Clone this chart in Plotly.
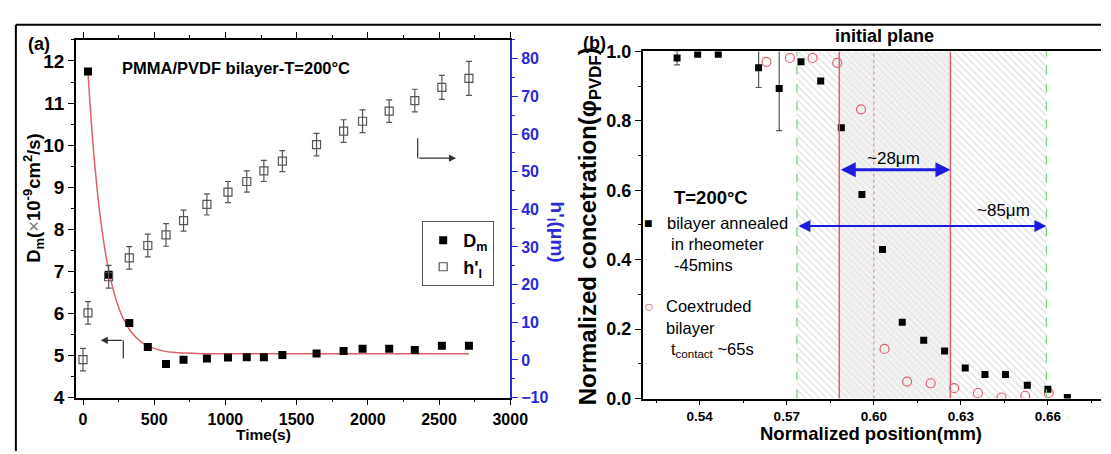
import plotly.graph_objects as go

# ---------------- Panel (a) data ----------------
time_D = [35, 180, 325, 455, 583, 706, 870, 1018, 1150, 1270, 1400, 1640, 1830, 1963, 2150, 2330, 2520, 2710]
D_m = [11.75, 6.92, 5.77, 5.20, 4.80, 4.90, 4.93, 4.95, 4.96, 4.96, 5.01, 5.05, 5.11, 5.16, 5.16, 5.13, 5.23, 5.23]

time_h = [0, 35, 180, 325, 455, 583, 706, 870, 1018, 1150, 1270, 1400, 1640, 1830, 1963, 2150, 2330, 2520, 2710]
h_l = [0.1, 12.5, 22.1, 27.1, 30.4, 33.2, 37.0, 41.3, 44.6, 47.4, 50.2, 52.8, 57.2, 60.8, 63.4, 66.1, 68.9, 72.4, 74.8]
h_err = [3.0, 3.0, 3.0, 3.0, 3.0, 3.0, 2.8, 2.8, 2.8, 2.8, 2.8, 2.8, 3.0, 3.0, 3.0, 3.0, 3.0, 3.2, 4.5]

fit_t = [35, 60, 90, 120, 150, 180, 210, 240, 270, 300, 330, 370, 410, 450, 500, 560, 650, 800, 1000, 1500, 2000, 2710]
fit_D = [11.73, 10.47, 9.27, 8.33, 7.60, 7.03, 6.59, 6.24, 5.97, 5.77, 5.60, 5.44, 5.32, 5.24, 5.17, 5.11, 5.07, 5.05, 5.04, 5.04, 5.04, 5.04]

# ---------------- Panel (b) data ----------------
pos_bilayer = [0.5322, 0.5393, 0.5464, 0.5603, 0.5674, 0.5749, 0.5817, 0.5888, 0.5959, 0.6030,
               0.6098, 0.6172, 0.6244, 0.6315, 0.6383, 0.6454, 0.6529, 0.6600, 0.6667]
phi_bilayer = [0.981, 0.992, 0.992, 0.953, 0.893, 0.970, 0.915, 0.780, 0.588, 0.429,
               0.220, 0.168, 0.137, 0.088, 0.069, 0.069, 0.038, 0.027, 0.003]
err_bilayer = [0.02, 0, 0, 0.057, 0.121, 0, 0, 0, 0, 0, 0, 0, 0, 0, 0, 0, 0, 0, 0]

pos_coex = [0.5630, 0.5711, 0.5789, 0.5874, 0.5956, 0.6037, 0.6115, 0.6196, 0.6277, 0.6359, 0.6440, 0.6522, 0.6603]
phi_coex = [0.970, 0.981, 0.981, 0.967, 0.833, 0.143, 0.049, 0.044, 0.030, 0.016, 0.003, 0.008, 0.016]

outer_region = [0.5735, 0.6595]   # ~85 um (green dashed)
inner_region = [0.5881, 0.6264]   # ~28 um (red solid)
initial_plane = 0.600

W, H = 1111, 454
def px(x):
    return x / W
def py(y):
    return 1 - y / H

FONT = "Liberation Sans, Arial, sans-serif"
BLUE = "#2a2ad8"
RED = "#e0606a"

fig = go.Figure()

# ---- panel (b) hatched regions ----
fig.add_trace(go.Scatter(
    x=[outer_region[0], outer_region[0], outer_region[1], outer_region[1], outer_region[0]],
    y=[0, 1, 1, 0, 0], xaxis="x2", yaxis="y3", mode="lines", fill="toself",
    line=dict(width=0), fillcolor="rgba(0,0,0,0)",
    fillpattern=dict(shape="\\", fgcolor="#bdbdbd", bgcolor="white", size=5, solidity=0.25),
    hoverinfo="skip", showlegend=False))
fig.add_trace(go.Scatter(
    x=[inner_region[0], inner_region[0], inner_region[1], inner_region[1], inner_region[0]],
    y=[0, 1, 1, 0, 0], xaxis="x2", yaxis="y3", mode="lines", fill="toself",
    line=dict(width=0), fillcolor="rgba(0,0,0,0)",
    fillpattern=dict(shape="x", fgcolor="#cfcfcf", bgcolor="rgba(238,238,238,0.6)", size=4, solidity=0.2),
    hoverinfo="skip", showlegend=False))

# ---- panel (a) traces ----
fig.add_trace(go.Scatter(x=fit_t, y=fit_D, mode="lines", line=dict(color=RED, width=1.5, shape="spline"),
                         xaxis="x", yaxis="y", showlegend=False, hoverinfo="skip"))
fig.add_trace(go.Scatter(x=time_h, y=h_l, mode="markers", name="h'<sub>l</sub>", legendrank=2,
                         marker=dict(symbol="square-open", size=8, color="#555555", line=dict(width=1.2)),
                         error_y=dict(type="data", array=h_err, color="#555555", thickness=1.2, width=3),
                         xaxis="x", yaxis="y2"))
fig.add_trace(go.Scatter(x=time_D, y=D_m, mode="markers", name="D<sub>m</sub>", legendrank=1,
                         marker=dict(symbol="square", size=8, color="black"),
                         xaxis="x", yaxis="y"))

# ---- panel (b) traces ----
fig.add_trace(go.Scatter(x=pos_coex, y=phi_coex, mode="markers",
                         marker=dict(symbol="circle-open", size=9, color=RED, line=dict(width=1.2)),
                         xaxis="x2", yaxis="y3", showlegend=False))
fig.add_trace(go.Scatter(x=pos_bilayer, y=phi_bilayer, mode="markers",
                         marker=dict(symbol="square", size=7, color="black"),
                         error_y=dict(type="data", array=err_bilayer, color="#555555", thickness=1.2, width=3),
                         xaxis="x2", yaxis="y3", showlegend=False))

shapes = []
# figure border (top and left)
shapes.append(dict(type="line", xref="paper", yref="paper", x0=px(8), x1=1, y0=py(7), y1=py(7),
                   line=dict(color="black", width=2)))
shapes.append(dict(type="line", xref="paper", yref="paper", x0=px(8), x1=px(8), y0=py(7), y1=0,
                   line=dict(color="black", width=2)))
# panel (b) vertical lines
for xv in outer_region:
    shapes.append(dict(type="line", xref="x2", yref="y3", x0=xv, x1=xv, y0=0, y1=1,
                       line=dict(color="#7fd07f", width=1.3, dash="dash")))
for xv in inner_region:
    shapes.append(dict(type="line", xref="x2", yref="y3", x0=xv, x1=xv, y0=0, y1=1,
                       line=dict(color=RED, width=1.5)))
shapes.append(dict(type="line", xref="x2", yref="y3", x0=initial_plane, x1=initial_plane, y0=0, y1=1,
                   line=dict(color="#e88a90", width=1.2, dash="dot")))
# panel (a) L-arrows vertical parts
shapes.append(dict(type="line", xref="x", yref="y", x0=283, x1=283, y0=4.93, y1=5.36,
                   line=dict(color="#333333", width=1.2)))
shapes.append(dict(type="line", xref="x", yref="y2", x0=2350, x1=2350, y0=58.9, y1=53.6,
                   line=dict(color="#333333", width=1.2)))

ann = []
def text(x, y, s, size, weight="bold", color="black", xanchor="center", yanchor="middle", angle=0):
    ann.append(dict(x=px(x), y=py(y), xref="paper", yref="paper", text=s, showarrow=False,
                    xanchor=xanchor, yanchor=yanchor, textangle=angle,
                    font=dict(family=FONT, size=size, color=color, weight=weight)))

text(32, 27, "(a)", 18)
text(596, 26, "(b)", 18)
text(232, 52, "PMMA/PVDF bilayer-T=200°C", 16.5)
text(260, 437, "Time(s)", 15.5)
text(26, 189, "D<sub>m</sub>(<span style='font-weight:normal;color:#777'>×</span>10<sup>-9</sup>cm<sup>2</sup>/s)", 18.5, angle=-90)
text(557, 225, "h'<sub>l</sub>(μm)", 19, color=BLUE, angle=90)
text(591, 218, "Normalized concetration(φ<sub>PVDF</sub>)", 24, angle=-90)
text(877, 436, "Normalized position(mm)", 18.5)
text(891, 19, "initial plane", 18)
text(900, 147, "~28μm", 17, weight="normal")
text(1012, 202, "~85μm", 17, weight="normal")
text(675, 188, "T=200°C", 18.5, xanchor="left")
text(651, 215, "■", 14, weight="normal")
text(668, 215, "bilayer annealed", 16.5, weight="normal", xanchor="left")
text(672, 237, "in rheometer", 16.5, weight="normal", xanchor="left")
text(675, 259, "-45mins", 16.5, weight="normal", xanchor="left")
text(652, 302, "○", 16, weight="normal", color=RED)
text(667, 302, "Coextruded", 16.5, weight="normal", xanchor="left")
text(667, 325, "bilayer", 16.5, weight="normal", xanchor="left")
text(672, 348, "t<sub>contact</sub> ~65s", 16.5, weight="normal", xanchor="left")

# arrows
ann.append(dict(x=124, y=5.36, ax=283, ay=5.36, xref="x", yref="y", axref="x", ayref="y", text="",
                showarrow=True, arrowhead=2, arrowsize=1.2, arrowwidth=1.2, arrowcolor="#333333"))
ann.append(dict(x=2620, y=53.6, ax=2350, ay=53.6, xref="x", yref="y2", axref="x", ayref="y2", text="",
                showarrow=True, arrowhead=2, arrowsize=1.2, arrowwidth=1.2, arrowcolor="#333333"))
ann.append(dict(x=inner_region[1], y=0.659, ax=inner_region[0], ay=0.659, xref="x2", yref="y3",
                axref="x2", ayref="y3", text="", showarrow=True, arrowhead=2, startarrowhead=2,
                arrowside="end+start", arrowsize=1.0, arrowwidth=3, arrowcolor="#1c1ce0"))
ann.append(dict(x=outer_region[1], y=0.497, ax=outer_region[0], ay=0.497, xref="x2", yref="y3",
                axref="x2", ayref="y3", text="", showarrow=True, arrowhead=2, startarrowhead=2,
                arrowside="end+start", arrowsize=1.2, arrowwidth=2, arrowcolor="#1c1ce0"))

fig.update_layout(
    width=W, height=H, margin=dict(l=0, r=0, t=0, b=0),
    paper_bgcolor="white", plot_bgcolor="rgba(0,0,0,0)",
    showlegend=True,
    legend=dict(x=px(421), y=py(213), xanchor="left", yanchor="top", bordercolor="#555555", borderwidth=1,
                bgcolor="white", font=dict(family=FONT, size=18, color="black", weight="bold"),
                traceorder="normal", itemwidth=30),
    xaxis=dict(domain=[px(69), px(510.5)], range=[-50, 3000], anchor="y",
               showgrid=False, zeroline=False, showline=True, linecolor="black", linewidth=1.5,
               mirror="ticks", ticks="outside", ticklen=6, tickwidth=1.3, tickcolor="black",
               dtick=500, tick0=0, tickfont=dict(family=FONT, size=16, color="black", weight="bold"),
               minor=dict(dtick=250, ticks="outside", ticklen=3, tickcolor="black")),
    yaxis=dict(domain=[py(398), py(23)], range=[4, 12.5], anchor="x",
               showgrid=False, zeroline=False, showline=True, linecolor="black", linewidth=1.5,
               ticks="outside", ticklen=6, tickwidth=1.3, tickcolor="black",
               dtick=1, tick0=4, tickfont=dict(family=FONT, size=19, color="black", weight="bold"),
               minor=dict(dtick=0.5, ticks="outside", ticklen=3, tickcolor="black")),
    yaxis2=dict(overlaying="y", side="right", anchor="x", range=[-10, 85],
                showgrid=False, zeroline=False, showline=True, linecolor=BLUE, linewidth=1.5,
                ticks="outside", ticklen=6, tickwidth=1.3, tickcolor=BLUE,
                dtick=10, tick0=0, tickfont=dict(family=FONT, size=16, color=BLUE, weight="bold"),
                minor=dict(dtick=5, ticks="outside", ticklen=3, tickcolor=BLUE)),
    xaxis2=dict(domain=[px(645), 1], range=[0.5203, 0.6783], anchor="y3",
                showgrid=False, zeroline=False, showline=True, linecolor="black", linewidth=1.5,
                mirror=True, ticks="outside", ticklen=5, tickwidth=1.3, tickcolor="black",
                dtick=0.03, tick0=0.54, tickformat=".2f",
                tickfont=dict(family=FONT, size=13.5, color="black", weight="bold"),
                minor=dict(dtick=0.015, ticks="outside", ticklen=3, tickcolor="black")),
    yaxis3=dict(domain=[py(399), py(35)], range=[0, 1.0], anchor="x2",
                showgrid=False, zeroline=False, showline=True, linecolor="black", linewidth=1.5,
                ticks="outside", ticklen=6, tickwidth=1.3, tickcolor="black",
                dtick=0.2, tick0=0, tickformat=".1f",
                tickfont=dict(family=FONT, size=18, color="black", weight="bold"),
                minor=dict(dtick=0.1, ticks="outside", ticklen=3, tickcolor="black")),
    shapes=shapes, annotations=ann,
)

fig.write_html("out.html")
